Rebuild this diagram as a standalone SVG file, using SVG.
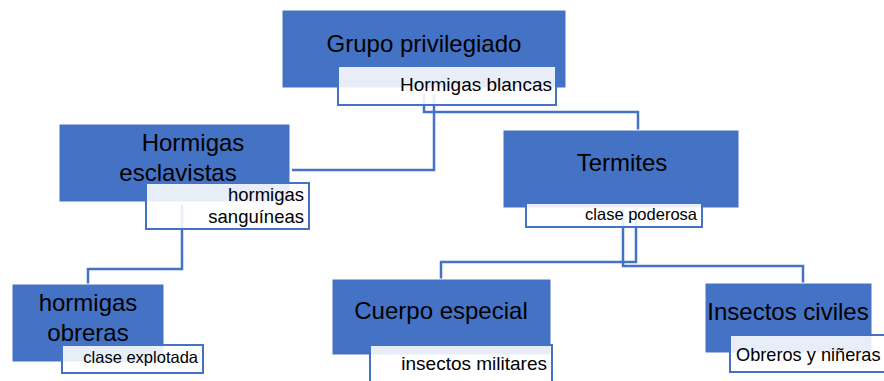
<svg xmlns="http://www.w3.org/2000/svg" width="884" height="381" viewBox="0 0 884 381">
<style>
.main{fill:#4472C4;stroke:#ffffff;stroke-width:1}
.sub{fill:#ffffff;fill-opacity:0.88;stroke:#4472C4;stroke-width:2}
.conn{fill:none;stroke:#4472C4;stroke-width:2.5}
.t{font-family:"Liberation Sans",Arial,sans-serif;fill:#000;font-size:24px;text-anchor:middle}
.s{font-family:"Liberation Sans",Arial,sans-serif;fill:#000;text-anchor:end}
</style>
<rect width="884" height="381" fill="#ffffff"/>
<g id="connectors">
<path class="conn" d="M424,94 V112 H638 V130"/>
<path class="conn" d="M434,94 V170 H292"/>
<path class="conn" d="M182,205 V269 H88 V284"/>
<path class="conn" d="M636,208 V262 H441 V279"/>
<path class="conn" d="M623,208 V266 H803 V283"/>
</g>
<g id="grupo">
<rect class="main" x="282" y="10" width="284" height="78"/>
<text class="t" x="424" y="52">Grupo privilegiado</text>
<rect class="sub" x="338" y="66" width="218" height="39"/>
<text class="s" x="552" y="91" font-size="19">Hormigas blancas</text>
</g>
<g id="esclavistas">
<rect class="main" x="59" y="124" width="231" height="78"/>
<text class="t" x="193" y="151">Hormigas</text>
<text class="t" x="178" y="181">esclavistas</text>
<rect class="sub" x="146" y="183" width="163" height="46"/>
<text class="s" x="304" y="201" font-size="18.5">hormigas</text>
<text class="s" x="304" y="223" font-size="18.5">sanguíneas</text>
</g>
<g id="termites">
<rect class="main" x="503" y="130" width="236" height="78"/>
<text class="t" x="622" y="171">Termites</text>
<rect class="sub" x="526" y="203" width="176" height="24"/>
<text class="s" x="697" y="220" font-size="16.5">clase poderosa</text>
</g>
<g id="obreras">
<rect class="main" x="12" y="284" width="152" height="78"/>
<text class="t" x="88" y="311">hormigas</text>
<text class="t" x="88" y="341">obreras</text>
<rect class="sub" x="62" y="345" width="141" height="28"/>
<text class="s" x="198" y="363" font-size="16.5">clase explotada</text>
</g>
<g id="cuerpo">
<rect class="main" x="332" y="279" width="219" height="76"/>
<text class="t" x="441" y="319">Cuerpo especial</text>
<rect class="sub" x="370" y="345" width="182" height="40"/>
<text class="s" x="547" y="370" font-size="19">insectos militares</text>
</g>
<g id="civiles">
<rect class="main" x="705" y="283" width="167" height="70"/>
<text class="t" x="788" y="320">Insectos civiles</text>
<rect class="sub" x="730" y="335" width="160" height="37"/>
<text class="s" x="736" y="361" font-size="18.2" style="text-anchor:start">Obreros y niñeras</text>
</g>
</svg>
